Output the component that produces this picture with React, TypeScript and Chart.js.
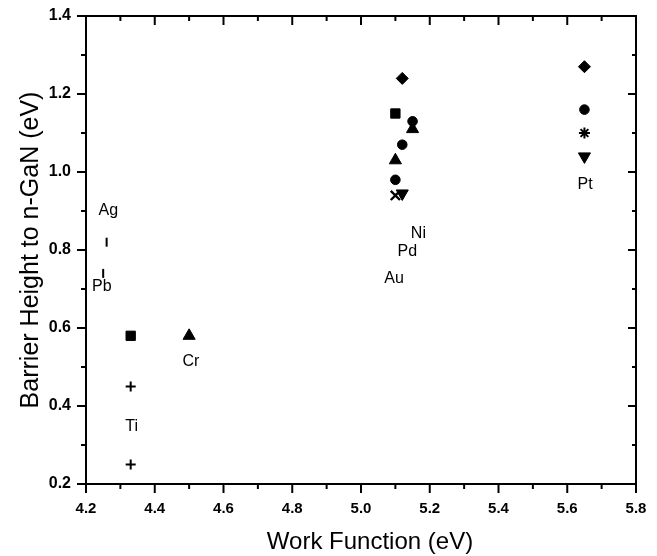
import React, { useEffect, useRef } from 'react';
import { Chart, registerables } from 'chart.js';

Chart.register(...registerables);

// ---- data ----
const xTicks = [4.2, 4.4, 4.6, 4.8, 5.0, 5.2, 5.4, 5.6, 5.8];
const yTicks = [0.2, 0.4, 0.6, 0.8, 1.0, 1.2, 1.4];

const squareX = [4.33, 5.10];
const squareY = [0.58, 1.15];
const triUpX = [4.50, 5.10, 5.15];
const triUpY = [0.58, 1.03, 1.11];
const circleX = [5.15, 5.12, 5.10, 5.65];
const circleY = [1.13, 1.07, 0.98, 1.16];
const diamondX = [5.12, 5.65];
const diamondY = [1.24, 1.27];
const plusX = [4.33, 4.33];
const plusY = [0.45, 0.25];
const xMarkX = [5.10];
const xMarkY = [0.94];
const triDownX = [5.12, 5.65];
const triDownY = [0.945, 1.04];
const starX = [5.65];
const starY = [1.10];
const barX = [4.26, 4.25];
const barY = [0.82, 0.74];

const metalNames = ['Ag', 'Pb', 'Cr', 'Ti', 'Ni', 'Pd', 'Au', 'Pt'];
const metalX = [4.265, 4.246, 4.505, 4.333, 5.167, 5.135, 5.096, 5.652];
const metalY = [0.90, 0.705, 0.514, 0.347, 0.843, 0.796, 0.727, 0.967];

const xTitle = 'Work Function (eV)';
const yTitle = 'Barrier Height to n-GaN (eV)';

const FONT = '"Liberation Sans", Arial, Helvetica, sans-serif';

const pts = (xs: number[], ys: number[]) => xs.map((v, i) => ({ x: v, y: ys[i] }));

const framePlugin = {
  id: 'frameTicks',
  afterDatasetsDraw(chart: any) {
    const { ctx, chartArea, scales } = chart;
    const { left, right, top, bottom } = chartArea;
    const xs = scales.x;
    const ys = scales.y;
    ctx.save();
    ctx.strokeStyle = '#000';
    ctx.lineWidth = 2;
    ctx.lineCap = 'butt';
    ctx.strokeRect(left, top, right - left, bottom - top);
    const line = (x1: number, y1: number, x2: number, y2: number) => {
      ctx.beginPath();
      ctx.moveTo(x1, y1);
      ctx.lineTo(x2, y2);
      ctx.stroke();
    };
    const xMinor: number[] = [];
    for (let i = 0; i < xTicks.length - 1; i++) xMinor.push((xTicks[i] + xTicks[i + 1]) / 2);
    const yMinor: number[] = [];
    for (let i = 0; i < yTicks.length - 1; i++) yMinor.push((yTicks[i] + yTicks[i + 1]) / 2);

    xTicks.forEach((v) => {
      const p = xs.getPixelForValue(v);
      line(p, bottom, p, bottom + 9);
      line(p, top, p, top + 9);
    });
    xMinor.forEach((v) => {
      const p = xs.getPixelForValue(v);
      line(p, bottom, p, bottom + 5);
      line(p, top, p, top + 5);
    });
    yTicks.forEach((v) => {
      const p = ys.getPixelForValue(v);
      line(left - 9, p, left, p);
      line(right - 8, p, right, p);
    });
    yMinor.forEach((v) => {
      const p = ys.getPixelForValue(v);
      line(left - 5, p, left, p);
      line(right - 4, p, right, p);
    });

    ctx.fillStyle = '#000';
    ctx.font = `16px ${FONT}`;
    ctx.textAlign = 'center';
    ctx.textBaseline = 'middle';
    metalNames.forEach((name, i) => {
      ctx.fillText(name, xs.getPixelForValue(metalX[i]), ys.getPixelForValue(metalY[i]));
    });

    ctx.font = `24px ${FONT}`;
    ctx.fillText(xTitle, 370, 542);
    ctx.restore();
  },
};

export default function App() {
  const ref = useRef<HTMLCanvasElement | null>(null);
  useEffect(() => {
    if (!ref.current) return;
    const black = '#000';
    const base = { backgroundColor: black, borderColor: black, showLine: false };
    const chart = new Chart(ref.current, {
      type: 'scatter',
      data: {
        datasets: [
          { ...base, label: 'square', data: pts(squareX, squareY), pointStyle: 'rect', pointRadius: 6.6, borderWidth: 1 },
          { ...base, label: 'triangle', data: pts(triUpX, triUpY), pointStyle: 'triangle', pointRadius: 7, borderWidth: 1 },
          { ...base, label: 'circle', data: pts(circleX, circleY), pointStyle: 'circle', pointRadius: 4.8, borderWidth: 1 },
          { ...base, label: 'diamond', data: pts(diamondX, diamondY), pointStyle: 'rectRot', pointRadius: 6, borderWidth: 1 },
          { ...base, label: 'plus', data: pts(plusX, plusY), pointStyle: 'cross', pointRadius: 5, borderWidth: 2 },
          { ...base, label: 'x', data: pts(xMarkX, xMarkY), pointStyle: 'crossRot', pointRadius: 6.5, borderWidth: 2.4 },
          { ...base, label: 'triangleDown', data: pts(triDownX, triDownY), pointStyle: 'triangle', pointRotation: 180, pointRadius: 7, borderWidth: 1 },
          { ...base, label: 'star', data: pts(starX, starY), pointStyle: 'star', pointRadius: 5.5, borderWidth: 2 },
          { ...base, label: 'bar', data: pts(barX, barY), pointStyle: 'line', pointRotation: 90, pointRadius: 4.5, borderWidth: 2 },
        ],
      },
      options: {
        responsive: false,
        animation: false,
        layout: { padding: { left: 0, top: 16, right: 21, bottom: 0 } },
        plugins: { legend: { display: false }, tooltip: { enabled: false } },
        scales: {
          x: {
            type: 'linear',
            min: xTicks[0],
            max: xTicks[xTicks.length - 1],
            afterBuildTicks: (s: any) => { s.ticks = xTicks.map((v) => ({ value: v })); },
            afterFit: (s: any) => {
              s.height = 72;
              s.paddingLeft = 0;
              s.paddingRight = 0;
              s.paddingTop = 0;
              s.paddingBottom = 0;
            },
            grid: { display: false, drawTicks: false },
            border: { display: false },
            ticks: {
              padding: 16,
              color: '#000',
              font: { family: FONT, size: 15, weight: 'bold' },
              maxRotation: 0,
              autoSkip: false,
              callback: (v: any) => Number(v).toFixed(1),
            },
          },
          y: {
            type: 'linear',
            min: yTicks[0],
            max: yTicks[yTicks.length - 1],
            afterBuildTicks: (s: any) => { s.ticks = yTicks.map((v) => ({ value: v })); },
            afterFit: (s: any) => {
              s.width = 86;
              s.paddingLeft = 0;
              s.paddingRight = 0;
              s.paddingTop = 0;
              s.paddingBottom = 0;
            },
            grid: { display: false, drawTicks: false },
            border: { display: false },
            ticks: {
              padding: 15,
              color: '#000',
              font: { family: FONT, size: 16, weight: 'bold' },
              autoSkip: false,
              callback: (v: any) => Number(v).toFixed(1),
            },
            title: {
              display: true,
              text: yTitle,
              color: '#000',
              font: { family: FONT, size: 25 },
              padding: { top: 16, bottom: 0 },
            },
          },
        },
      },
      plugins: [framePlugin],
    } as any);
    return () => chart.destroy();
  }, []);
  return (
    <div style={{ position: 'absolute', left: 0, top: 0, width: 657, height: 556, background: '#fff' }}>
      <canvas ref={ref} width={657} height={556} style={{ display: 'block' }} />
    </div>
  );
}
